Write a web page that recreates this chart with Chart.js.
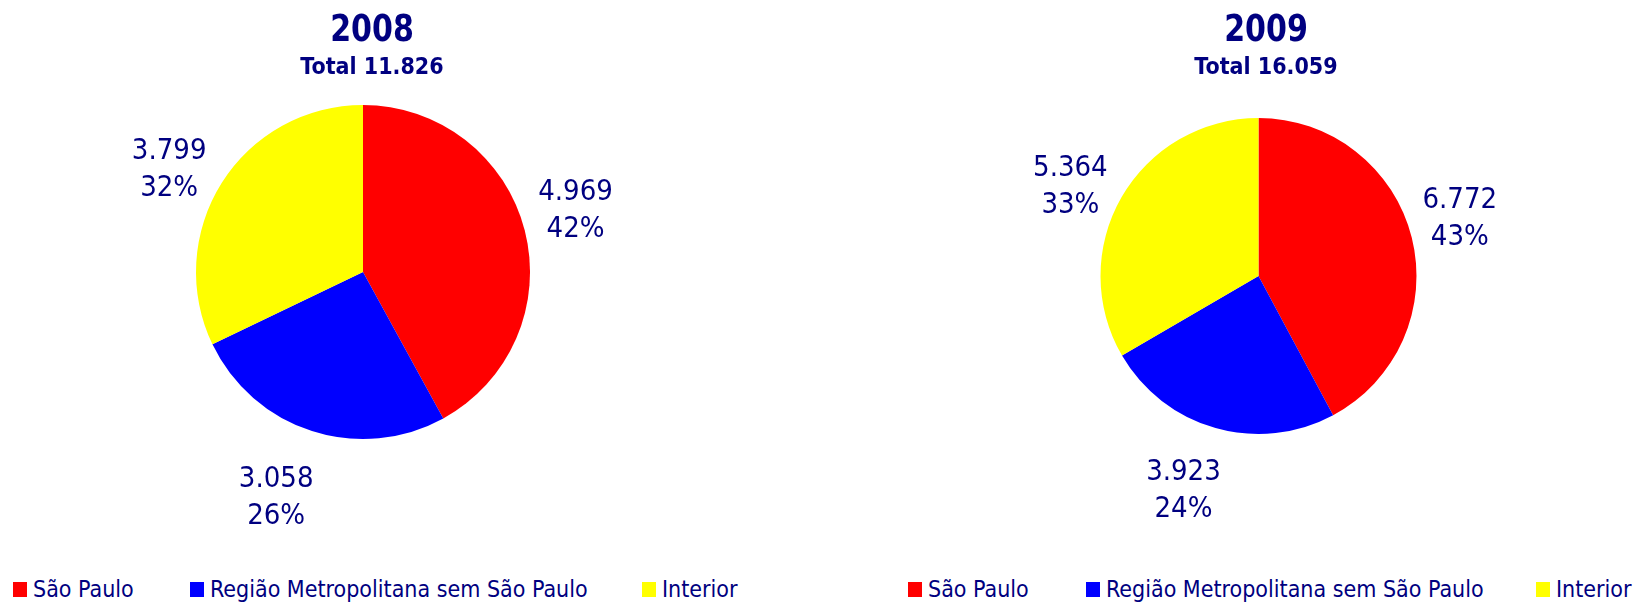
<!DOCTYPE html>
<html>
<head>
<meta charset="utf-8">
<script src="https://cdn.jsdelivr.net/npm/chart.js@4.4.0/dist/chart.umd.min.js"></script>
<style>
  body { margin: 0; background: #fff; width: 1637px; height: 603px; position: relative; overflow: hidden;
         font-family: "DejaVu Sans Condensed", "DejaVu Sans", sans-serif; color: #000080; }
  .chart { position: absolute; top: 0; }
  .title { position: absolute; width: 400px; text-align: center; font-weight: bold; white-space: nowrap; }
  .title.year { top: 8px; font-size: 38px; line-height: 40px; transform: scaleX(0.88); }
  .title.total { top: 52px; font-size: 23px; line-height: 28px; }
  .leg-item { position: absolute; top: 578px; height: 24px; }
  .leg-box { position: absolute; left: 0; top: 4px; width: 14px; height: 15px; }
  .leg-text { position: absolute; left: 20px; top: 0; font-size: 23px; line-height: 23px; white-space: nowrap; }
</style>
</head>
<body>
<canvas id="c2008" class="chart" width="726" height="560" style="left:0px"></canvas>
<canvas id="c2009" class="chart" width="727" height="560" style="left:895px"></canvas>
<div id="overlay"></div>
<script>
const categories = ["São Paulo", "Região Metropolitana sem São Paulo", "Interior"];
const colors = ["#ff0000", "#0000ff", "#ffff00"];
const years = [2008, 2009];
const values2008 = [4969, 3058, 3799];
const values2009 = [6772, 3923, 5364];
const pct2008 = [42, 26, 32];
const pct2009 = [43, 24, 33];
const navy = "#000080";

function fmt(n) {
  return String(n).replace(/\B(?=(\d{3})+(?!\d))/g, ".");
}

// value + percent drawn outside each slice (placement tuned to look like the office chart)
const outsideLabels = {
  id: "outsideLabels",
  afterDatasetsDraw(chart) {
    const ctx = chart.ctx;
    const ds = chart.data.datasets[0];
    const meta = chart.getDatasetMeta(0);
    ctx.save();
    ctx.font = "29px 'DejaVu Sans Condensed', 'DejaVu Sans', sans-serif";
    ctx.fillStyle = navy;
    ctx.textAlign = "center";
    ctx.textBaseline = "middle";
    meta.data.forEach((arc, i) => {
      const p = arc.getProps(["x", "y", "startAngle", "endAngle", "outerRadius"], true);
      const mid = (p.startAngle + p.endAngle) / 2;
      const dx = Math.cos(mid), dy = Math.sin(mid);
      const r = p.outerRadius;
      const x = p.x + r * (1.35 * dx - 0.06 * dy - 0.05);
      const y = p.y + r * (1.35 * dy - 0.078 * dx + 0.04);
      ctx.fillText(fmt(ds.data[i]), x, y - 18);
      ctx.fillText(ds.pct[i] + "%", x, y + 19);
    });
    ctx.restore();
  }
};

function makePie(id, values, pct, padTop, padBottom) {
  return new Chart(document.getElementById(id), {
    type: "pie",
    data: {
      labels: categories,
      datasets: [{ data: values, pct: pct, backgroundColor: colors, borderWidth: 0 }]
    },
    options: {
      responsive: false,
      animation: false,
      devicePixelRatio: 1,
      layout: { padding: { top: padTop, left: 0, right: 0, bottom: padBottom } },
      plugins: {
        legend: { display: false },
        tooltip: { enabled: false }
      }
    },
    plugins: [outsideLabels]
  });
}

const overlay = document.getElementById("overlay");

function addTitles(year, values, cx) {
  const total = values.reduce((a, b) => a + b, 0);
  const t = document.createElement("div");
  t.className = "title year";
  t.style.left = (cx - 200) + "px";
  t.textContent = String(year);
  const s = document.createElement("div");
  s.className = "title total";
  s.style.left = (cx - 200) + "px";
  s.textContent = "Total " + fmt(total);
  overlay.appendChild(t);
  overlay.appendChild(s);
}

function buildLegend(chart, xs) {
  const items = chart.options.plugins.legend.labels.generateLabels(chart);
  items.forEach((it, i) => {
    const d = document.createElement("div");
    d.className = "leg-item";
    d.style.left = xs[i] + "px";
    const b = document.createElement("span");
    b.className = "leg-box";
    b.style.background = it.fillStyle;
    const t = document.createElement("span");
    t.className = "leg-text";
    t.textContent = it.text;
    d.appendChild(b);
    d.appendChild(t);
    overlay.appendChild(d);
  });
}

const ch2008 = makePie("c2008", values2008, pct2008, 105, 121);
const ch2009 = makePie("c2009", values2009, pct2009, 118, 126);
addTitles(years[0], values2008, 372);
addTitles(years[1], values2009, 1266);
buildLegend(ch2008, [13, 190, 642]);
buildLegend(ch2009, [908, 1086, 1536]);
</script>
</body>
</html>
